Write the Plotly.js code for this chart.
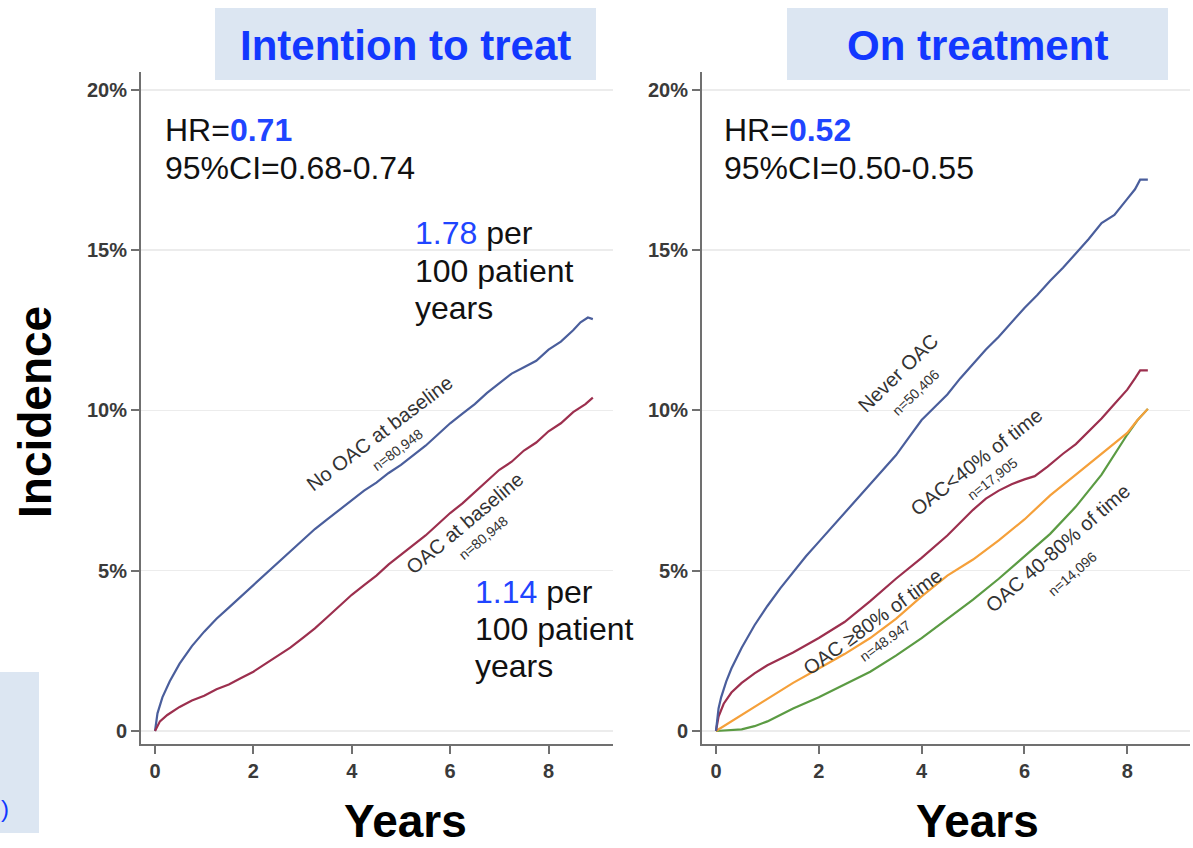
<!DOCTYPE html>
<html>
<head>
<meta charset="utf-8">
<script src="https://cdn.plot.ly/plotly-3.0.1.min.js"></script>
<style>
  html, body { margin: 0; padding: 0; background: #ffffff; }
  #chart { width: 1193px; height: 848px; }
</style>
</head>
<body>
<div id="chart"></div>
<script>
// ---- Intention to treat: cumulative incidence by baseline OAC status ----
const ittNoOacYears = [0, 0.05, 0.15, 0.3, 0.5, 0.75, 1, 1.25, 1.5, 1.75, 2, 2.25, 2.5, 2.75, 3, 3.25, 3.5, 3.75, 4, 4.25, 4.5, 4.75, 5, 5.25, 5.5, 5.75, 6, 6.25, 6.5, 6.75, 7, 7.25, 7.5, 7.75, 8, 8.25, 8.5, 8.65, 8.8, 8.9];
const ittNoOacPct   = [0, 0.55, 1.05, 1.55, 2.1, 2.65, 3.1, 3.5, 3.85, 4.2, 4.55, 4.9, 5.25, 5.6, 5.95, 6.3, 6.6, 6.9, 7.2, 7.5, 7.75, 8.05, 8.3, 8.6, 8.9, 9.25, 9.6, 9.9, 10.2, 10.55, 10.85, 11.15, 11.35, 11.55, 11.9, 12.15, 12.5, 12.75, 12.9, 12.85];

const ittOacYears = [0, 0.1, 0.25, 0.5, 0.75, 1, 1.25, 1.5, 1.75, 2, 2.25, 2.5, 2.75, 3, 3.25, 3.5, 3.75, 4, 4.25, 4.5, 4.75, 5, 5.25, 5.5, 5.75, 6, 6.25, 6.5, 6.75, 7, 7.25, 7.5, 7.75, 8, 8.25, 8.5, 8.75, 8.9];
const ittOacPct   = [0, 0.3, 0.5, 0.75, 0.95, 1.1, 1.3, 1.45, 1.65, 1.85, 2.1, 2.35, 2.6, 2.9, 3.2, 3.55, 3.9, 4.25, 4.55, 4.85, 5.2, 5.5, 5.8, 6.1, 6.45, 6.8, 7.1, 7.45, 7.8, 8.15, 8.4, 8.75, 9.0, 9.35, 9.6, 9.95, 10.2, 10.4];

// ---- On treatment: cumulative incidence by share of time on OAC ----
const otNeverYears = [0, 0.05, 0.1, 0.2, 0.3, 0.5, 0.75, 1, 1.25, 1.5, 1.75, 2, 2.25, 2.5, 2.75, 3, 3.25, 3.5, 3.75, 4, 4.25, 4.5, 4.75, 5, 5.25, 5.5, 5.75, 6, 6.25, 6.5, 6.75, 7, 7.25, 7.5, 7.75, 8, 8.15, 8.25, 8.4];
const otNeverPct   = [0, 0.7, 1.05, 1.55, 1.95, 2.6, 3.3, 3.9, 4.45, 4.95, 5.45, 5.9, 6.35, 6.8, 7.25, 7.7, 8.15, 8.6, 9.15, 9.7, 10.1, 10.5, 11.0, 11.45, 11.9, 12.3, 12.75, 13.2, 13.6, 14.05, 14.45, 14.9, 15.35, 15.85, 16.1, 16.6, 16.9, 17.2, 17.2];

const otLow40Years = [0, 0.05, 0.15, 0.3, 0.5, 0.75, 1, 1.5, 2, 2.5, 3, 3.5, 4, 4.5, 5, 5.25, 5.5, 5.75, 6, 6.2, 6.45, 6.75, 7, 7.25, 7.5, 7.75, 8, 8.15, 8.25, 8.4];
const otLow40Pct   = [0, 0.45, 0.85, 1.2, 1.5, 1.8, 2.05, 2.45, 2.9, 3.4, 4.05, 4.75, 5.4, 6.1, 6.9, 7.25, 7.5, 7.7, 7.85, 7.95, 8.25, 8.65, 8.95, 9.35, 9.75, 10.2, 10.65, 11.0, 11.25, 11.25];

const otHigh80Years = [0, 0.25, 0.5, 1, 1.5, 2, 2.5, 3, 3.5, 4, 4.5, 5, 5.5, 6, 6.5, 7, 7.5, 8, 8.2, 8.4];
const otHigh80Pct   = [0, 0.25, 0.5, 1.0, 1.5, 1.95, 2.4, 2.9, 3.5, 4.2, 4.85, 5.35, 5.95, 6.6, 7.35, 8.0, 8.65, 9.3, 9.7, 10.05];

const otMid4080Years = [0, 0.25, 0.5, 0.75, 1, 1.25, 1.5, 2, 2.5, 3, 3.5, 4, 4.5, 5, 5.5, 6, 6.5, 7, 7.5, 8, 8.2, 8.4];
const otMid4080Pct   = [0, 0.02, 0.05, 0.15, 0.3, 0.5, 0.7, 1.05, 1.45, 1.85, 2.35, 2.9, 3.5, 4.1, 4.75, 5.45, 6.15, 7.0, 8.0, 9.25, 9.7, 10.05];

// Axis ticks
const yTickVals = [0, 5, 10, 15, 20];
const yTickText = ['0', '5%', '10%', '15%', '20%'];
const xTickVals = [0, 2, 4, 6, 8];

// Panel headings and annotation text
const panelTitles = ['Intention to treat', 'On treatment'];
const hrValues = ['0.71', '0.52'];
const ciText = ['95%CI=0.68-0.74', '95%CI=0.50-0.55'];
const rateNoOac = '1.78';
const rateOac = '1.14';

const W = 1193, H = 848;
const px = v => v / W;
const py = v => 1 - v / H;

const C_BLUE = '#4a5e9c', C_RED = '#9c2f4e', C_ORANGE = '#f5a03a', C_GREEN = '#5b9b43';
const HEAD_BLUE = '#1238ff';
const NUM_BLUE = '#1f45ff';

function line(x, y, color, xa, ya) {
  return { x, y, type: 'scatter', mode: 'lines', xaxis: xa, yaxis: ya,
           line: { color, width: 2.2, shape: 'linear' }, hoverinfo: 'skip', showlegend: false };
}

const traces = [
  line(ittNoOacYears, ittNoOacPct, C_BLUE, 'x', 'y'),
  line(ittOacYears, ittOacPct, C_RED, 'x', 'y'),
  line(otMid4080Years, otMid4080Pct, C_GREEN, 'x2', 'y2'),
  line(otHigh80Years, otHigh80Pct, C_ORANGE, 'x2', 'y2'),
  line(otLow40Years, otLow40Pct, C_RED, 'x2', 'y2'),
  line(otNeverYears, otNeverPct, C_BLUE, 'x2', 'y2'),
];

const axisCommon = {
  showline: true, linecolor: '#707070', linewidth: 2,
  ticks: 'outside', ticklen: 8, tickwidth: 2, tickcolor: '#707070',
  zeroline: false, fixedrange: true,
  tickfont: { family: 'Liberation Sans, Arial, sans-serif', size: 20, color: '#3a3a3a', weight: 'bold' },
};

const yDomain = [py(744), py(72)];
const yRange = [-0.406, 20.56];

const layout = {
  width: W, height: H,
  margin: { l: 0, r: 0, t: 0, b: 0 },
  paper_bgcolor: '#ffffff', plot_bgcolor: '#ffffff',
  showlegend: false,
  xaxis: Object.assign({}, axisCommon, { domain: [px(141), px(613)], range: [-0.285, 9.31],
           tickvals: xTickVals, showgrid: false, anchor: 'y' }),
  yaxis: Object.assign({}, axisCommon, { domain: yDomain, range: yRange,
           tickvals: yTickVals, ticktext: yTickText, showgrid: true, gridcolor: '#ececec', gridwidth: 1.5, anchor: 'x' }),
  xaxis2: Object.assign({}, axisCommon, { domain: [px(702), px(1190)], range: [-0.272, 9.22],
           tickvals: xTickVals, showgrid: false, anchor: 'y2' }),
  yaxis2: Object.assign({}, axisCommon, { domain: yDomain, range: yRange,
           tickvals: yTickVals, ticktext: yTickText, showgrid: true, gridcolor: '#ececec', gridwidth: 1.5, anchor: 'x2' }),
  shapes: [
    { type: 'rect', xref: 'paper', yref: 'paper', x0: px(215), x1: px(596), y0: py(80), y1: py(8),
      fillcolor: '#dce6f2', line: { width: 0 }, layer: 'below' },
    { type: 'rect', xref: 'paper', yref: 'paper', x0: px(787), x1: px(1168), y0: py(80), y1: py(8),
      fillcolor: '#dce6f2', line: { width: 0 }, layer: 'below' },
    { type: 'rect', xref: 'paper', yref: 'paper', x0: 0, x1: px(39), y0: py(833), y1: py(672),
      fillcolor: '#dce6f2', line: { width: 0 }, layer: 'below' },
  ],
  annotations: []
};

const ann = layout.annotations;
const ARIAL = 'Liberation Sans, Arial, sans-serif';

function paperText(text, x, y, opts) {
  ann.push(Object.assign({ text, xref: 'paper', yref: 'paper', x: px(x), y: py(y),
    xanchor: 'left', yanchor: 'middle', showarrow: false,
    font: { family: ARIAL, size: 32, color: '#111111' } }, opts || {}));
}

// panel headings
paperText(panelTitles[0], 405, 45, { xanchor: 'center', font: { family: ARIAL, size: 42, color: HEAD_BLUE, weight: 'bold' } });
paperText(panelTitles[1], 977, 45, { xanchor: 'center', font: { family: ARIAL, size: 42, color: HEAD_BLUE, weight: 'bold' } });

// axis titles
paperText('Years', 405, 848, { xanchor: 'center', yanchor: 'bottom', borderpad: 0, font: { family: ARIAL, size: 46, color: '#000000', weight: 'bold' } });
paperText('Years', 977, 848, { xanchor: 'center', yanchor: 'bottom', borderpad: 0, font: { family: ARIAL, size: 46, color: '#000000', weight: 'bold' } });
paperText('Incidence', 35, 412, { xanchor: 'center', textangle: -90, font: { family: ARIAL, size: 46, color: '#000000', weight: 'bold' } });

// blue bracket at the lower-left edge
paperText(')', 0, 808, { xanchor: 'left', borderpad: 0, font: { family: ARIAL, size: 24, color: HEAD_BLUE } });

// hazard ratios
paperText('HR=<b><span style="color:' + NUM_BLUE + '">' + hrValues[0] + '</span></b>', 163, 130);
paperText(ciText[0], 163, 168);
paperText('HR=<b><span style="color:' + NUM_BLUE + '">' + hrValues[1] + '</span></b>', 722, 130);
paperText(ciText[1], 722, 168);

// event rates
paperText('<span style="color:' + NUM_BLUE + '">' + rateNoOac + '</span> per', 413, 233);
paperText('100 patient', 413, 271);
paperText('years', 413, 308);
paperText('<span style="color:' + NUM_BLUE + '">' + rateOac + '</span> per', 473, 592);
paperText('100 patient', 473, 629);
paperText('years', 473, 666);

// curve labels, placed in data coordinates
function curveLabel(text, x, y, angle, size, xa, ya) {
  ann.push({ text, x, y, xref: xa, yref: ya, textangle: angle, showarrow: false,
    xanchor: 'center', yanchor: 'middle',
    font: { family: ARIAL, size, color: '#333333' } });
}
curveLabel('No OAC at baseline', 4.57, 9.30, -37, 20, 'x', 'y');
curveLabel('n=80,948', 4.92, 8.77, -37, 14, 'x', 'y');
curveLabel('OAC at baseline', 6.30, 6.49, -40, 20, 'x', 'y');
curveLabel('n=80,948', 6.67, 6.02, -40, 14, 'x', 'y');

curveLabel('Never OAC', 3.54, 11.17, -44, 20, 'x2', 'y2');
curveLabel('n=50,406', 3.89, 10.58, -44, 14, 'x2', 'y2');
curveLabel('OAC<40% of time', 5.06, 8.40, -38, 20, 'x2', 'y2');
curveLabel('n=17,905', 5.37, 7.86, -38, 14, 'x2', 'y2');
curveLabel('OAC 40-80% of time', 6.65, 5.71, -41, 20, 'x2', 'y2');
curveLabel('n=14,096', 6.93, 4.90, -41, 14, 'x2', 'y2');
curveLabel('OAC ≥80% of time', 3.04, 3.40, -36, 20, 'x2', 'y2');
curveLabel('n=48.947', 3.29, 2.80, -36, 14, 'x2', 'y2');

Plotly.newPlot('chart', traces, layout, { staticPlot: true, displayModeBar: false });
</script>
</body>
</html>
